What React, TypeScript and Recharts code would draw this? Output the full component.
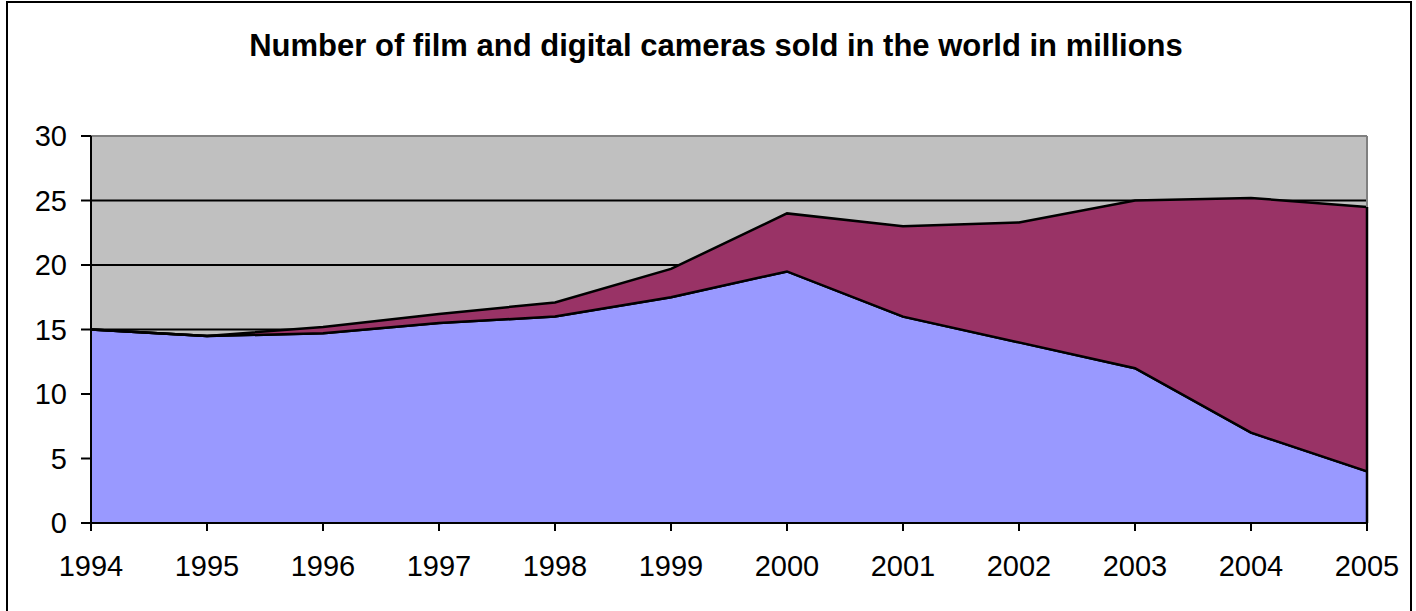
import {
  ComposedChart,
  Area,
  Line,
  XAxis,
  YAxis,
  CartesianGrid,
  ReferenceLine,
} from 'recharts';

// Years on the category axis
const years = ['1994', '1995', '1996', '1997', '1998', '1999', '2000', '2001', '2002', '2003', '2004', '2005'];
// Film cameras sold (millions)
const film = [15, 14.5, 14.7, 15.5, 16, 17.5, 19.5, 16, 14, 12, 7, 4];
// Digital cameras sold (millions), stacked on top of film
const digital = [0, 0, 0.5, 0.7, 1.1, 2.2, 4.5, 7, 9.3, 13, 18.2, 20.5];
const yTicks = [0, 5, 10, 15, 20, 25, 30];

const data = years.map((year, i) => ({ year, film: film[i], digital: digital[i] }));

const lastYear = years[years.length - 1];
const lastTotal = film[film.length - 1] + digital[digital.length - 1];

const font = 'Arial, "Liberation Sans", sans-serif';

export default function App() {
  return (
    <div
      style={{
        position: 'absolute',
        left: 0,
        top: 0,
        width: 1416,
        height: 611,
        background: '#fff',
        overflow: 'hidden',
        fontFamily: font,
      }}
    >
      {/* outer chart frame */}
      <div
        style={{
          position: 'absolute',
          left: 6,
          top: 1,
          width: 1406,
          height: 620,
          border: '2px solid #000',
          boxSizing: 'border-box',
        }}
      />
      <div
        style={{
          position: 'absolute',
          left: 0,
          top: 28,
          width: 1432,
          textAlign: 'center',
          fontSize: 31,
          fontWeight: 'bold',
          color: '#000',
          whiteSpace: 'nowrap',
        }}
      >
        Number of film and digital cameras sold in the world in millions
      </div>
      <div style={{ position: 'absolute', left: 0, top: 0 }}>
        <ComposedChart
          width={1416}
          height={611}
          data={data}
          margin={{ top: 136, right: 49, left: 0, bottom: 58 }}
        >
          <CartesianGrid vertical={false} fill="#C0C0C0" stroke="#000" strokeWidth={2} fillOpacity={1} />
          <XAxis
            dataKey="year"
            scale="point"
            tick={{ fill: '#000', fontSize: 29, fontFamily: font }}
            axisLine={{ stroke: '#000', strokeWidth: 2 }}
            tickLine={{ stroke: '#000', strokeWidth: 2 }}
            tickSize={8}
            tickMargin={24}
            interval={0}
          />
          <YAxis
            width={91}
            domain={[0, 30]}
            ticks={yTicks}
            tick={{ fill: '#000', fontSize: 29, fontFamily: font }}
            axisLine={{ stroke: '#000', strokeWidth: 2 }}
            tickLine={{ stroke: '#000', strokeWidth: 2 }}
            tickSize={10}
            tickMargin={14}
          />
          <ReferenceLine y={30} stroke="#808080" strokeWidth={2} />
          <ReferenceLine x={lastYear} stroke="#808080" strokeWidth={2} />
          <Area
            type="linear"
            dataKey="film"
            stackId="a"
            fill="#9999FF"
            fillOpacity={1}
            stroke="#000"
            strokeWidth={2.5}
            isAnimationActive={false}
          />
          <Area
            type="linear"
            dataKey="digital"
            stackId="a"
            fill="#993366"
            fillOpacity={1}
            stroke="#000"
            strokeWidth={2.5}
            isAnimationActive={false}
          />
          {/* film outline redrawn on top so the digital fill doesn't cover it */}
          <Line
            type="linear"
            dataKey="film"
            stroke="#000"
            strokeWidth={2.5}
            dot={false}
            activeDot={false}
            isAnimationActive={false}
          />
          <ReferenceLine
            segment={[
              { x: lastYear, y: 0 },
              { x: lastYear, y: lastTotal },
            ]}
            stroke="#000"
            strokeWidth={2.5}
          />
        </ComposedChart>
      </div>
    </div>
  );
}
